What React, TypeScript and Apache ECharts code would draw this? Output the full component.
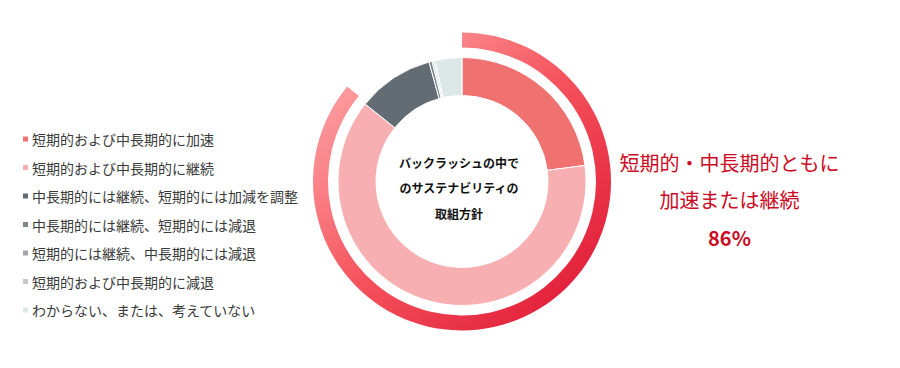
import React, { useEffect, useRef } from "react";
import * as echarts from "echarts";

const categories = [
  "短期的および中長期的に加速",
  "短期的および中長期的に継続",
  "中長期的には継続、短期的には加減を調整",
  "中長期的には継続、短期的には減退",
  "短期的には継続、中長期的には減退",
  "短期的および中長期的に減退",
  "わからない、または、考えていない",
];
const values = [23, 63, 10, 0.4, 0.2, 0.2, 3.5];
const colors = ["#F07270", "#F7AFB1", "#646C73", "#7C868E", "#A0A7AE", "#C5CACF", "#DCE7E7"];
const highlightShare = [86, 14];
const centerLines = ["バックラッシュの中で", "のサステナビリティの", "取組方針"];
const sideLines = ["短期的・中長期的ともに", "加速または継続", "86%"];

const FONT = "'Noto Sans CJK JP', 'Noto Sans', sans-serif";

export default function App() {
  const ref = useRef<HTMLDivElement>(null);
  useEffect(() => {
    document.body.style.margin = "0";
    const chart = echarts.init(ref.current!, undefined, { renderer: "svg" });
    chart.setOption({
      animation: false,
      backgroundColor: "#ffffff",
      legend: {
        orient: "vertical",
        left: 21,
        top: 132,
        padding: 0,
        itemWidth: 7,
        itemHeight: 7,
        itemGap: 14.5,
        icon: "rect",
        selectedMode: false,
        data: categories.map((name, i) => ({ name, icon: "rect", itemStyle: { color: colors[i] } })),
        textStyle: { fontFamily: FONT, fontSize: 14, color: "#3a3a3a", lineHeight: 14, padding: [0, 0, 0, -2] },
      },
      series: [
        {
          type: "pie",
          center: [462, 181.5],
          radius: [86, 124],
          startAngle: 90,
          clockwise: true,
          silent: true,
          label: { show: false },
          labelLine: { show: false },
          itemStyle: { borderColor: "#ffffff", borderWidth: 1 },
          data: categories.map((name, i) => ({
            name,
            value: values[i],
            itemStyle: { color: colors[i] },
          })),
        },
        {
          type: "pie",
          center: [462, 181.5],
          radius: [134, 149],
          startAngle: 90,
          clockwise: true,
          silent: true,
          label: { show: false },
          labelLine: { show: false },
          data: [
            {
              name: "hl",
              value: highlightShare[0],
              itemStyle: {
                color: new echarts.graphic.LinearGradient(0, 0, 1, 1, [
                  { offset: 0, color: "#FFB8B8" },
                  { offset: 0.5, color: "#F5525C" },
                  { offset: 1, color: "#DC1030" },
                ]),
              },
            },
            { name: "rest", value: highlightShare[1], itemStyle: { color: "rgba(0,0,0,0)" } },
          ],
        },
      ],
      graphic: [
        ...centerLines.map((t, i) => ({
          type: "text",
          x: 459,
          y: 162 + i * 25.5,
          style: {
            text: t,
            align: "center",
            verticalAlign: "middle",
            font: `bold 12px ${FONT}`,
            fill: "#111",
          },
        })),
        ...sideLines.map((t, i) => ({
          type: "text",
          x: 729.5,
          y: 162 + i * 37.5,
          style: {
            text: t,
            align: "center",
            verticalAlign: "middle",
            font: `${i === 2 ? "bold " : ""}20px ${FONT}`,
            fill: "#CC0A24",
          },
        })),
      ],
    });
    return () => chart.dispose();
  }, []);
  return <div ref={ref} style={{ position: "fixed", left: 0, top: 0, width: 900, height: 368 }} />;
}
